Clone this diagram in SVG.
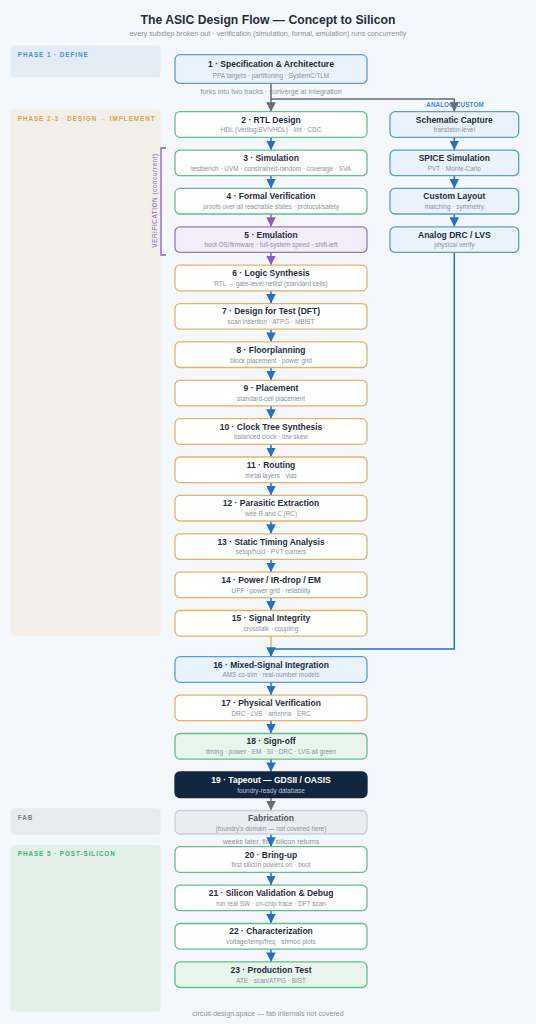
<svg xmlns="http://www.w3.org/2000/svg" width="536" height="1024" viewBox="0 0 536 1024">
<defs>
<style>
text{font-family:"Liberation Sans",Arial,sans-serif}
.ttl{font-size:12.2px;font-weight:bold;fill:#1f2d3d;text-anchor:middle}
.sttl{font-size:7.2px;fill:#8a94a0;text-anchor:middle}
.nt{font-size:8.5px;font-weight:bold;fill:#1f2d3d;text-anchor:middle}
.ns{font-size:6.4px;fill:#8a94a0;text-anchor:middle}
.an{font-size:7.1px;fill:#8a94a0;text-anchor:middle}
.ph{font-size:6.3px;font-weight:bold;letter-spacing:0.95px}
.g rect{fill:#ffffff;stroke:#62c08c;stroke-width:1.3}
.o rect{fill:#ffffff;stroke:#e2b466;stroke-width:1.3}
.p rect{fill:#f3ecfb;stroke:#9b72d8;stroke-width:1.3}
.b rect{fill:#eaf2fb;stroke:#5b9bd9;stroke-width:1.3}
.gf rect{fill:#e7f5ec;stroke:#62c08c;stroke-width:1.3}
.dk rect{fill:#13263f;stroke:#13263f;stroke-width:1.3}
.dk .nt{fill:#ffffff}
.dk .ns{fill:#b9c4d3}
.fb rect{fill:#e9ecf1;stroke:#c9d0da;stroke-width:1.3}
.fb .nt{fill:#4f5866}
.c{fill:none;stroke-width:1.5}
.cb{stroke:#2470c2}
.cp{stroke:#8a5cd0}
.cg{stroke:#646d7a}
.co{stroke:#e2b466}
</style>
<marker id="ab" viewBox="0 0 10 10" refX="10" refY="5" markerWidth="9.5" markerHeight="9.5" orient="auto" markerUnits="userSpaceOnUse"><path d="M0,0 L10,5 L0,10 z" fill="#2470c2"/></marker>
<marker id="ap" viewBox="0 0 10 10" refX="10" refY="5" markerWidth="9.5" markerHeight="9.5" orient="auto" markerUnits="userSpaceOnUse"><path d="M0,0 L10,5 L0,10 z" fill="#8a5cd0"/></marker>
<marker id="ag" viewBox="0 0 10 10" refX="10" refY="5" markerWidth="9.5" markerHeight="9.5" orient="auto" markerUnits="userSpaceOnUse"><path d="M0,0 L10,5 L0,10 z" fill="#646d7a"/></marker>
</defs>
<rect x="0" y="0" width="536" height="1024" fill="#f4f7fb"/>
<text class="ttl" x="268" y="23.5">The ASIC Design Flow — Concept to Silicon</text>
<text class="sttl" x="268" y="36">every substep broken out · verification (simulation, formal, emulation) runs concurrently</text>

<g id="phases">
<rect x="10.5" y="45.5" width="150" height="31.8" rx="4" fill="#e3ebf5"/>
<text class="ph" x="17.8" y="57.3" fill="#4a8fd6">PHASE 1 · DEFINE</text>
<rect x="10.5" y="109.3" width="150" height="526.7" rx="4" fill="#f3efe8"/>
<text class="ph" x="17.8" y="120.8" fill="#dca04a">PHASE 2-3 · DESIGN → IMPLEMENT</text>
<rect x="10.5" y="808.3" width="150" height="26.4" rx="4" fill="#e8eaee"/>
<text class="ph" x="17.8" y="819.6" fill="#7a818c">FAB</text>
<rect x="10.5" y="845" width="150" height="166.7" rx="4" fill="#e2f0e9"/>
<text class="ph" x="17.8" y="855.6" fill="#3fb370">PHASE 5 · POST-SILICON</text>
</g>

<g id="verification-bracket">
<path d="M166 148 H161 V255 H166" fill="none" stroke="#8a5cd0" stroke-width="1.3"/>
<text class="ph" transform="translate(157.3 200.5) rotate(-90)" text-anchor="middle" fill="#8a5cd0" style="letter-spacing:0.6px;font-weight:normal">VERIFICATION (concurrent)</text>
</g>

<g id="labels">
<text class="an" x="271" y="94">forks into two tracks · converge at integration</text>
<text class="ph" x="455" y="107.4" text-anchor="middle" fill="#3d87d4" style="letter-spacing:0.1px">ANALOG CUSTOM</text>
<text class="an" x="271" y="843.8">weeks later, first silicon returns</text>
<text class="an" x="268" y="1015.8">circuit-design.space — fab internals not covered</text>
</g>

<g id="connectors">
<path class="c cg" d="M271 83.4 V111.7" marker-end="url(#ag)"/>
<path class="c cg" d="M271 99 H454.3 V111.7" marker-end="url(#ag)"/>
<path class="c cb" d="M271 137.3 V150.1" marker-end="url(#ab)"/>
<path class="c cb" d="M271 175.7 V188.4" marker-end="url(#ab)"/>
<path class="c cp" d="M271 214 V226.8" marker-end="url(#ap)"/>
<path class="c cp" d="M271 252.4 V265.2" marker-end="url(#ap)"/>
<path class="c cb" d="M271 290.8 V303.6" marker-end="url(#ab)"/>
<path class="c cb" d="M271 329.2 V341.9" marker-end="url(#ab)"/>
<path class="c cb" d="M271 367.5 V380.3" marker-end="url(#ab)"/>
<path class="c cb" d="M271 405.9 V418.7" marker-end="url(#ab)"/>
<path class="c cb" d="M271 444.3 V457" marker-end="url(#ab)"/>
<path class="c cb" d="M271 482.6 V495.4" marker-end="url(#ab)"/>
<path class="c cb" d="M271 521 V533.8" marker-end="url(#ab)"/>
<path class="c cb" d="M271 559.4 V572.1" marker-end="url(#ab)"/>
<path class="c cb" d="M271 597.7 V610.5" marker-end="url(#ab)"/>
<path class="c co" d="M271 636.1 V649"/>
<path class="c cb" d="M454.3 252.4 V649 H271 V656.7" marker-end="url(#ab)"/>
<path class="c cb" d="M271 682.3 V695.1" marker-end="url(#ab)"/>
<path class="c cb" d="M271 720.7 V733.5" marker-end="url(#ab)"/>
<path class="c cb" d="M271 759.1 V771.9" marker-end="url(#ab)"/>
<path class="c cg" d="M271 797.5 V810.5" marker-end="url(#ag)"/>
<path class="c cb" d="M271 834 V846.7" marker-end="url(#ab)"/>
<path class="c cb" d="M271 872.3 V885.1" marker-end="url(#ab)"/>
<path class="c cb" d="M271 910.7 V923.5" marker-end="url(#ab)"/>
<path class="c cb" d="M271 949.1 V961.9" marker-end="url(#ab)"/>
<path class="c cb" d="M454.3 137.3 V150.1" marker-end="url(#ab)"/>
<path class="c cb" d="M454.3 175.7 V188.4" marker-end="url(#ab)"/>
<path class="c cb" d="M454.3 214 V226.8" marker-end="url(#ab)"/>
</g>

<g id="n1" class="b"><rect x="175" y="54.7" width="192" height="28.7" rx="5"/><text class="nt" x="271" y="67.3">1 · Specification &amp; Architecture</text><text class="ns" x="271" y="77.6">PPA targets · partitioning · SystemC/TLM</text></g>
<g id="n2" class="g"><rect x="175" y="111.7" width="192" height="25.6" rx="5"/><text class="nt" x="271" y="122.5">2 · RTL Design</text><text class="ns" x="271" y="132.3">HDL (Verilog/SV/VHDL) · lint · CDC</text></g>
<g id="n3" class="g"><rect x="175" y="150.1" width="192" height="25.6" rx="5"/><text class="nt" x="271" y="160.9">3 · Simulation</text><text class="ns" x="271" y="170.7">testbench · UVM · constrained-random · coverage · SVA</text></g>
<g id="n4" class="g"><rect x="175" y="188.4" width="192" height="25.6" rx="5"/><text class="nt" x="271" y="199.2">4 · Formal Verification</text><text class="ns" x="271" y="209">proofs over all reachable states · protocol/safety</text></g>
<g id="n5" class="p"><rect x="175" y="226.8" width="192" height="25.6" rx="5"/><text class="nt" x="271" y="237.6">5 · Emulation</text><text class="ns" x="271" y="247.4">boot OS/firmware · full-system speed · shift-left</text></g>
<g id="n6" class="o"><rect x="175" y="265.2" width="192" height="25.6" rx="5"/><text class="nt" x="271" y="276">6 · Logic Synthesis</text><text class="ns" x="271" y="285.8">RTL → gate-level netlist (standard cells)</text></g>
<g id="n7" class="o"><rect x="175" y="303.6" width="192" height="25.6" rx="5"/><text class="nt" x="271" y="314.4">7 · Design for Test (DFT)</text><text class="ns" x="271" y="324.2">scan insertion · ATPG · MBIST</text></g>
<g id="n8" class="o"><rect x="175" y="341.9" width="192" height="25.6" rx="5"/><text class="nt" x="271" y="352.7">8 · Floorplanning</text><text class="ns" x="271" y="362.5">block placement · power grid</text></g>
<g id="n9" class="o"><rect x="175" y="380.3" width="192" height="25.6" rx="5"/><text class="nt" x="271" y="391.1">9 · Placement</text><text class="ns" x="271" y="400.9">standard-cell placement</text></g>
<g id="n10" class="o"><rect x="175" y="418.7" width="192" height="25.6" rx="5"/><text class="nt" x="271" y="429.5">10 · Clock Tree Synthesis</text><text class="ns" x="271" y="439.3">balanced clock · low skew</text></g>
<g id="n11" class="o"><rect x="175" y="457" width="192" height="25.6" rx="5"/><text class="nt" x="271" y="467.8">11 · Routing</text><text class="ns" x="271" y="477.6">metal layers · vias</text></g>
<g id="n12" class="o"><rect x="175" y="495.4" width="192" height="25.6" rx="5"/><text class="nt" x="271" y="506.2">12 · Parasitic Extraction</text><text class="ns" x="271" y="516">wire R and C (RC)</text></g>
<g id="n13" class="o"><rect x="175" y="533.8" width="192" height="25.6" rx="5"/><text class="nt" x="271" y="544.6">13 · Static Timing Analysis</text><text class="ns" x="271" y="554.4">setup/hold · PVT corners</text></g>
<g id="n14" class="o"><rect x="175" y="572.1" width="192" height="25.6" rx="5"/><text class="nt" x="271" y="582.9">14 · Power / IR-drop / EM</text><text class="ns" x="271" y="592.7">UPF · power grid · reliability</text></g>
<g id="n15" class="o"><rect x="175" y="610.5" width="192" height="25.6" rx="5"/><text class="nt" x="271" y="621.3">15 · Signal Integrity</text><text class="ns" x="271" y="631.1">crosstalk · coupling</text></g>
<g id="n16" class="b"><rect x="175" y="656.7" width="192" height="25.6" rx="5"/><text class="nt" x="271" y="667.5">16 · Mixed-Signal Integration</text><text class="ns" x="271" y="677.3">AMS co-sim · real-number models</text></g>
<g id="n17" class="o"><rect x="175" y="695.1" width="192" height="25.6" rx="5"/><text class="nt" x="271" y="705.9">17 · Physical Verification</text><text class="ns" x="271" y="715.7">DRC · LVS · antenna · ERC</text></g>
<g id="n18" class="gf"><rect x="175" y="733.5" width="192" height="25.6" rx="5"/><text class="nt" x="271" y="744.3">18 · Sign-off</text><text class="ns" x="271" y="754.1">timing · power · EM · SI · DRC · LVS all green</text></g>
<g id="n19" class="dk"><rect x="175" y="771.9" width="192" height="25.6" rx="5"/><text class="nt" x="271" y="782.7">19 · Tapeout — GDSII / OASIS</text><text class="ns" x="271" y="792.5">foundry-ready database</text></g>
<g id="fab" class="fb"><rect x="175" y="810.5" width="192" height="23.5" rx="5"/><text class="nt" x="271" y="820.6">Fabrication</text><text class="ns" x="271" y="830.9">(foundry's domain — not covered here)</text></g>
<g id="n20" class="g"><rect x="175" y="846.7" width="192" height="25.6" rx="5"/><text class="nt" x="271" y="857.5">20 · Bring-up</text><text class="ns" x="271" y="867.3">first silicon powers on · boot</text></g>
<g id="n21" class="g"><rect x="175" y="885.1" width="192" height="25.6" rx="5"/><text class="nt" x="271" y="895.9">21 · Silicon Validation &amp; Debug</text><text class="ns" x="271" y="905.7">run real SW · on-chip trace · DFT scan</text></g>
<g id="n22" class="g"><rect x="175" y="923.5" width="192" height="25.6" rx="5"/><text class="nt" x="271" y="934.3">22 · Characterization</text><text class="ns" x="271" y="944.1">voltage/temp/freq · shmoo plots</text></g>
<g id="n23" class="gf"><rect x="175" y="961.9" width="192" height="25.6" rx="5"/><text class="nt" x="271" y="972.7">23 · Production Test</text><text class="ns" x="271" y="982.5">ATE · scan/ATPG · BIST</text></g>

<g id="a1" class="b"><rect x="390" y="111.7" width="128.7" height="25.6" rx="5"/><text class="nt" x="454.3" y="122.5">Schematic Capture</text><text class="ns" x="454.3" y="132.3">transistor-level</text></g>
<g id="a2" class="b"><rect x="390" y="150.1" width="128.7" height="25.6" rx="5"/><text class="nt" x="454.3" y="160.9">SPICE Simulation</text><text class="ns" x="454.3" y="170.7">PVT · Monte-Carlo</text></g>
<g id="a3" class="b"><rect x="390" y="188.4" width="128.7" height="25.6" rx="5"/><text class="nt" x="454.3" y="199.2">Custom Layout</text><text class="ns" x="454.3" y="209">matching · symmetry</text></g>
<g id="a4" class="b"><rect x="390" y="226.8" width="128.7" height="25.6" rx="5"/><text class="nt" x="454.3" y="237.6">Analog DRC / LVS</text><text class="ns" x="454.3" y="247.4">physical verify</text></g>
</svg>
